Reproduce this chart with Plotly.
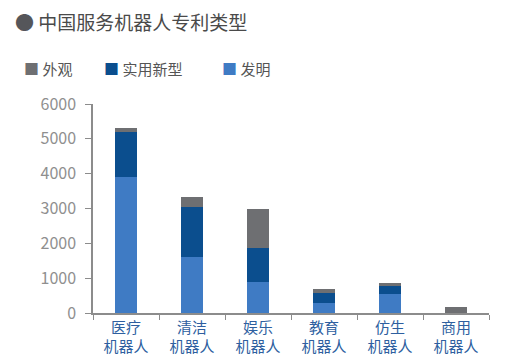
import plotly.graph_objects as go

categories = ["医疗<br>机器人", "清洁<br>机器人", "娱乐<br>机器人", "教育<br>机器人", "仿生<br>机器人", "商用<br>机器人"]
invention = [3900, 1600, 900, 300, 540, 0]
utility = [1300, 1430, 980, 270, 260, 0]
design = [100, 290, 1120, 110, 50, 170]
y_ticks = [0, 1000, 2000, 3000, 4000, 5000, 6000]

series_names = ["外观", "实用新型", "发明"]
colors = {"外观": "#6e6f72", "实用新型": "#0b4e8e", "发明": "#3f7bc4"}
FONT = "Noto Sans CJK SC"

fig = go.Figure()
for name, vals in [("发明", invention), ("实用新型", utility), ("外观", design)]:
    fig.add_trace(go.Bar(x=categories, y=vals, name=name, marker_color=colors[name],
                         marker_line_width=0, showlegend=False))

fig.update_layout(
    width=524, height=361,
    barmode="stack", bargap=0.66,
    margin=dict(l=93, r=35, t=104, b=48, autoexpand=False),
    paper_bgcolor="white", plot_bgcolor="white",
    font=dict(family=FONT),
    xaxis=dict(showline=True, linecolor="#8c8c8c", linewidth=1.5, ticks="outside",
               tickson="boundaries", ticklen=5, tickcolor="#8c8c8c", automargin=False,
               tickfont=dict(size=15, color="#2e5f9f", family=FONT), showgrid=False),
    yaxis=dict(range=[0, 6000], tickvals=y_ticks, showline=True, linecolor="#8c8c8c",
               linewidth=1.5, ticks="outside", ticklen=6, tickcolor="#8c8c8c",
               automargin=False, ticklabelstandoff=6,
               tickfont=dict(size=16, color="#8f8f8f", family=FONT), showgrid=False,
               zeroline=False),
)

# title
fig.add_annotation(text="<span style='color:#55565a'>●</span> 中国服务机器人专利类型",
                   xref="paper", yref="paper", x=-80/396, y=1 + (104-22)/208.7,
                   xanchor="left", yanchor="middle", showarrow=False,
                   font=dict(size=19, color="#4a4a4a", family=FONT))

# legend
legend_x = [22, 102, 220]
for name, px in zip(series_names, legend_x):
    fig.add_annotation(text=f"<span style='color:{colors[name]}'>■</span> {name}",
                       xref="paper", yref="paper", x=(px-93)/396, y=1 + (104-69)/208.7,
                       xanchor="left", yanchor="middle", showarrow=False,
                       font=dict(size=15, color="#555555", family=FONT))

fig.write_html("out.html", config={"displayModeBar": False},
               post_script="document.body.style.margin='0';document.body.style.overflow='hidden';")
